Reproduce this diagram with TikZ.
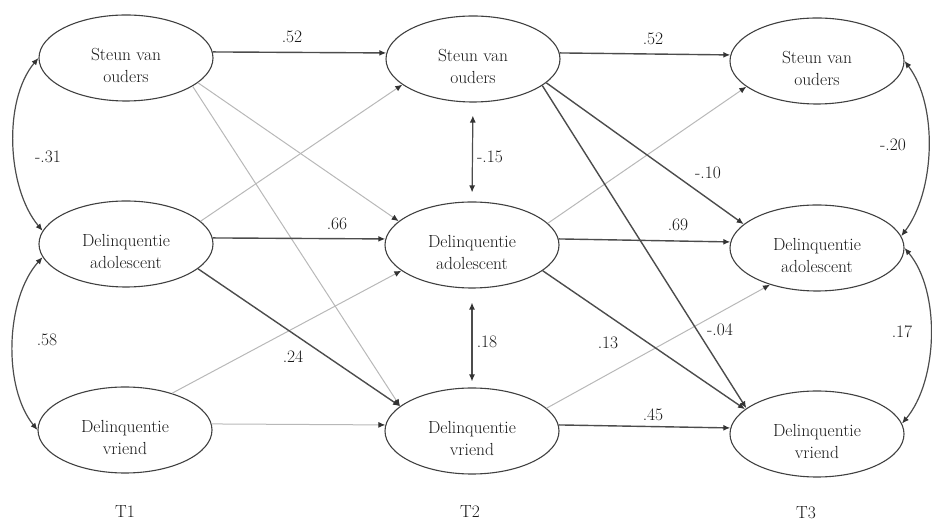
\documentclass[tikz,border=0pt]{standalone}
\usepackage{fontspec}
\usetikzlibrary{arrows.meta,shapes.geometric}
\newcommand{\twoline}[2]{\raisebox{-9pt}[\height][\depth]{\begin{tabular}{@{}c@{}}#1\\#2\end{tabular}}}
\begin{document}
\begin{tikzpicture}[x=1pt,y=1pt,
  latent/.style={ellipse, draw=black!75, line width=1.1pt, minimum width=174pt, minimum height=86pt, inner sep=0pt, font=\rmfamily\fontsize{17.5}{22}\selectfont, text=black!90},
  strongpath/.style={-{Latex[length=7pt,width=6pt,color=black!80]}, line width=1.4pt, draw=black!70},
  weakpath/.style={-{Latex[length=7pt,width=6pt,color=black!80]}, line width=1pt, draw=black!28},
  covpath/.style={{Latex[length=7pt,width=6pt,color=black!80]}-{Latex[length=7pt,width=6pt,color=black!80]}, line width=1.2pt, draw=black!70},
  coef/.style={font=\rmfamily\fontsize{17.5}{22}\selectfont, text=black!90, inner sep=0pt}]
\useasboundingbox (0,0) rectangle (932,522);

% T1
\node[latent] (A1) at (126,464) {\twoline{Steun van}{ouders}};
\node[latent] (B1) at (126,278) {\twoline{Delinquentie}{adolescent}};
\node[latent] (C1) at (125,92) {\twoline{Delinquentie}{vriend}};
% T2
\node[latent] (A2) at (473,463) {\twoline{Steun van}{ouders}};
\node[latent] (B2) at (472,277) {\twoline{Delinquentie}{adolescent}};
\node[latent] (C2) at (472,91) {\twoline{Delinquentie}{vriend}};
% T3
\node[latent] (A3) at (817,461) {\twoline{Steun van}{ouders}};
\node[latent] (B3) at (817,274) {\twoline{Delinquentie}{adolescent}};
\node[latent] (C3) at (817,88) {\twoline{Delinquentie}{vriend}};

% T1 -> T2
\draw[weakpath] (B1.17) -- (A2.200);
\draw[weakpath] (A1.-19) -- (B2.162);
\draw[weakpath] (A1.-23) -- (C2.161);
\draw[weakpath] (C1.38) -- (B2.200);
\draw[weakpath] (C1.4) -- (C2.176);
\draw[strongpath] (A1.4) -- (A2.176);
\draw[strongpath] (B1.4) -- (B2.176);
\draw[strongpath] (B1.-19) -- (C2.161);

% T2 -> T3
\draw[weakpath] (B2.16) -- (A3.200);
\draw[weakpath] (C2.17) -- (B3.218);
\draw[strongpath] (A2.4) -- (A3.176);
\draw[strongpath] (B2.4) -- (B3.176);
\draw[strongpath] (C2.4) -- (C3.176);
\draw[strongpath] (A2.-18) -- (B3.162);
\draw[strongpath] (A2.-21) -- (C3.160);
\draw[strongpath] (B2.-20) -- (C3.161);

% covariances
\draw[covpath] (A1.180) to[out=230,in=130,looseness=0.82] (B1.171);
\draw[covpath] (B1.189) to[out=228,in=129,looseness=0.82] (C1.180);
\draw[covpath, shorten <=13pt, shorten >=9pt] (A2.south) -- (B2.north);
\draw[covpath, shorten <=14pt, shorten >=6pt] (B2.south) -- (C2.north);
\draw[covpath] (A3.0) to[out=-53,in=53,looseness=0.82] (B3.8.5);
\draw[covpath] (B3.0) to[out=-50,in=50,looseness=0.82] (C3.7);

% coefficients
\node[coef] (k1) at (292,485) {.52};
\node[coef] (k2) at (337,298) {.66};
\node[coef] (k3) at (293,165) {.24};
\node[coef] (k4) at (653,483) {.52};
\node[coef] (k5) at (708,349) {-.10};
\node[coef] (k6) at (678,297) {.69};
\node[coef] (k7) at (720,192) {-.04};
\node[coef] (k8) at (608,179) {.13};
\node[coef] (k9) at (653,107) {.45};
\node[coef] (k10) at (490,365) {-.15};
\node[coef] (k11) at (487,180) {.18};
\node[coef] (k12) at (48,365) {-.31};
\node[coef] (k13) at (47,182) {.58};
\node[coef] (k14) at (893,377) {-.20};
\node[coef] (k15) at (902,190) {.17};

% time labels
\node[coef] (t1) at (125,10) {T1};
\node[coef] (t2) at (470,10) {T2};
\node[coef] (t3) at (806,9) {T3};
\end{tikzpicture}
\end{document}
